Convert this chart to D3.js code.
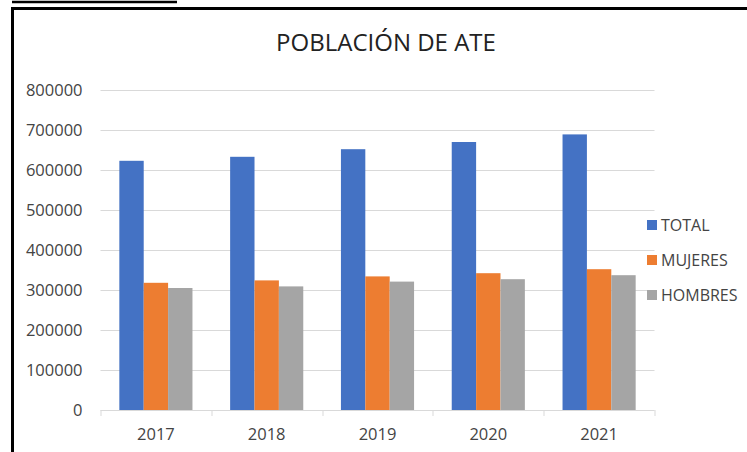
<!DOCTYPE html>
<html>
<head>
<meta charset="utf-8">
<script src="https://cdn.jsdelivr.net/npm/d3@7"></script>
<style>
  body { margin: 0; background: #fff; }
  svg text { font-family: "Open Sans", sans-serif; fill: #444; }
</style>
</head>
<body>
<div id="chartDiv"></div>
<script>
// chart data
var years = ["2017", "2018", "2019", "2020", "2021"];
var seriesNames = ["TOTAL", "MUJERES", "HOMBRES"];
var total   = [623000, 633000, 652000, 670000, 689000];
var mujeres = [318000, 324000, 334000, 342000, 352000];
var hombres = [305000, 309000, 321000, 327000, 337000];
var yTicks = [0, 100000, 200000, 300000, 400000, 500000, 600000, 700000, 800000];
var colors = ["#4472C4", "#ED7D31", "#A5A5A5"];

var seriesValues = [total, mujeres, hombres];

var W = 747, H = 452;
var margin = {top: 90, left: 100.5, right: 92.5, bottom: 42};
var width = W - margin.left - margin.right,
    height = H - margin.top - margin.bottom;

var svg = d3.select("#chartDiv").append("svg")
  .attr("width", W)
  .attr("height", H);

// frame of the pasted chart
svg.append("line").attr("x1", 12).attr("x2", 177).attr("y1", 2).attr("y2", 2)
  .attr("stroke", "#000").attr("stroke-width", 2.5);
svg.append("path")
  .attr("d", "M12.5," + H + "V8.5H" + W)
  .attr("fill", "none").attr("stroke", "#000").attr("stroke-width", 3);

// title
svg.append("text")
  .attr("x", 386).attr("y", 51)
  .attr("text-anchor", "middle")
  .style("font-size", "24px")
  .style("fill", "#222")
  .text("POBLACIÓN DE ATE");

var g = svg.append("g")
  .attr("transform", "translate(" + margin.left + "," + margin.top + ")");

var y = d3.scaleLinear().domain([0, 800000]).range([height, 0]);
var x0 = d3.scaleBand().domain(years).range([0, width])
  .paddingInner(0.34).paddingOuter(0.17);
var x1 = d3.scaleBand().domain(seriesNames).range([0, x0.bandwidth()]);

// gridlines
g.selectAll(".grid")
  .data(yTicks.slice(1))
  .enter().append("line")
  .attr("class", "grid")
  .attr("x1", 0).attr("x2", width)
  .attr("y1", function(d) { return Math.round(y(d)) + 0.5; })
  .attr("y2", function(d) { return Math.round(y(d)) + 0.5; })
  .attr("stroke", "#d9d9d9").attr("stroke-width", 1);

// y labels
g.selectAll(".ylab")
  .data(yTicks)
  .enter().append("text")
  .attr("class", "ylab")
  .attr("x", -18)
  .attr("y", function(d) { return y(d); })
  .attr("dy", "0.35em")
  .attr("text-anchor", "end")
  .style("font-size", "16.5px")
  .text(function(d) { return d; });

// bars
var groups = g.selectAll(".year")
  .data(years)
  .enter().append("g")
  .attr("class", "year")
  .attr("transform", function(d) { return "translate(" + x0(d) + ",0)"; });

groups.selectAll("rect")
  .data(function(d, i) {
    return seriesNames.map(function(s, k) { return {s: s, k: k, v: seriesValues[k][i]}; });
  })
  .enter().append("rect")
  .attr("x", function(d) { return x1(d.s); })
  .attr("width", x1.bandwidth())
  .attr("y", function(d) { return y(d.v); })
  .attr("height", function(d) { return height - y(d.v); })
  .attr("fill", function(d) { return colors[d.k]; });

// x axis
var xAxis = g.append("g")
  .attr("transform", "translate(0," + height + ")");
xAxis.append("line")
  .attr("x1", 0).attr("x2", width).attr("y1", 0.5).attr("y2", 0.5)
  .attr("stroke", "#d9d9d9");
var step = x0.step();
xAxis.selectAll(".tick")
  .data(d3.range(years.length + 1))
  .enter().append("line")
  .attr("x1", function(i) { return Math.round(i * step) + 0.5; })
  .attr("x2", function(i) { return Math.round(i * step) + 0.5; })
  .attr("y1", 0).attr("y2", 6)
  .attr("stroke", "#d9d9d9");
xAxis.selectAll(".xlab")
  .data(years)
  .enter().append("text")
  .attr("x", function(d) { return x0(d) + x0.bandwidth() / 2; })
  .attr("y", 30)
  .attr("text-anchor", "middle")
  .style("font-size", "16.5px")
  .text(function(d) { return d; });

// legend
var legend = svg.selectAll(".legend")
  .data(seriesNames)
  .enter().append("g")
  .attr("class", "legend")
  .attr("transform", function(d, i) { return "translate(647," + (225 + i * 35) + ")"; });
legend.append("rect")
  .attr("x", 0).attr("y", -5).attr("width", 10).attr("height", 10)
  .attr("fill", function(d, i) { return colors[i]; });
legend.append("text")
  .attr("x", 14).attr("y", 0).attr("dy", "0.36em")
  .style("font-size", "16px")
  .text(function(d) { return d; });
</script>
</body>
</html>
